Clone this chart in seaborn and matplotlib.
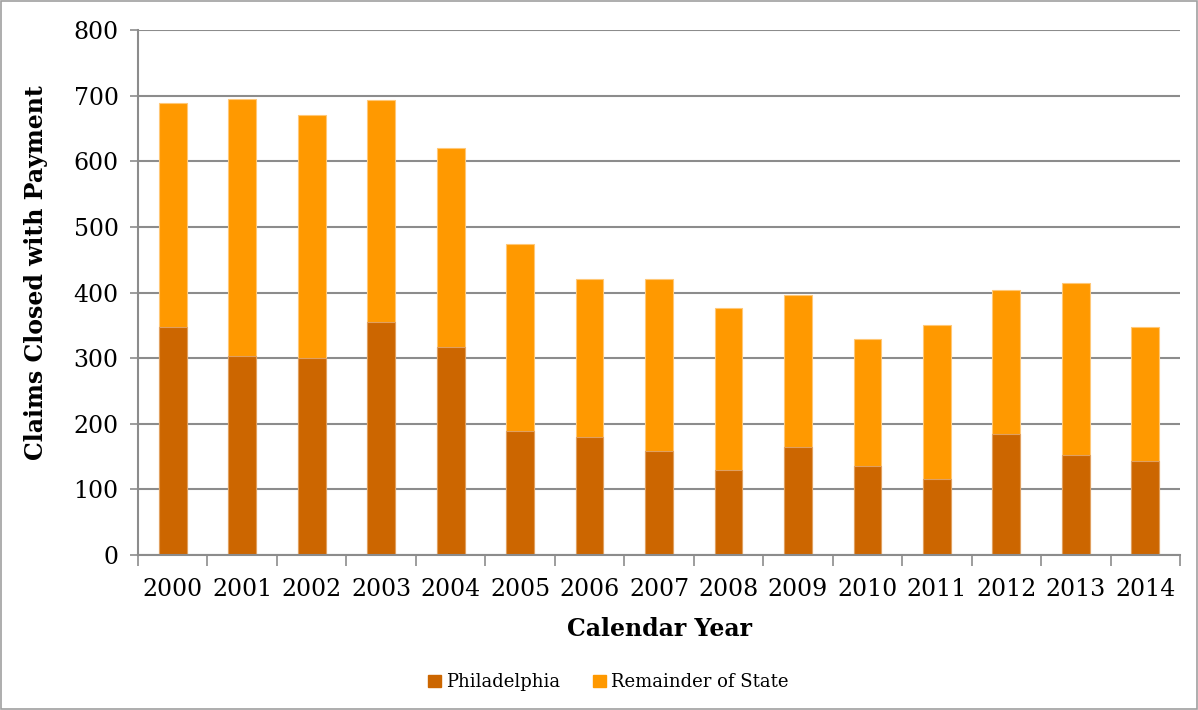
import matplotlib
matplotlib.use("Agg")
import matplotlib.pyplot as plt
from matplotlib.patches import Patch, Rectangle
import pandas as pd
import seaborn as sns

# values
years = [str(y) for y in range(2000, 2015)]
philadelphia = [348, 303, 300, 355, 317, 189, 180, 158, 130, 165, 136, 116, 184, 152, 143]
total_claims = [689, 695, 671, 694, 620, 474, 421, 421, 376, 396, 329, 350, 404, 415, 347]
remainder = [t - p for t, p in zip(total_claims, philadelphia)]

PHILLY_COLOR = "#CC6600"
REST_COLOR = "#FF9900"
GRID_COLOR = "#8C8C8C"

df = pd.DataFrame({"year": years, "philadelphia": philadelphia,
                   "remainder": remainder})
df["total"] = df["philadelphia"] + df["remainder"]

sns.set_style("white")
plt.rcParams["font.family"] = ["DejaVu Serif"]
plt.rcParams["text.color"] = "black"
plt.rcParams["axes.labelcolor"] = "black"
plt.rcParams["xtick.labelcolor"] = "black"
plt.rcParams["ytick.labelcolor"] = "black"

fig = plt.figure(figsize=(11.98, 7.10), dpi=100)
ax = fig.add_axes([0.1152, 0.2183, 0.8698, 0.7394])

# stacked bars: total first, Philadelphia on top of it
sns.barplot(data=df, x="year", y="total", color=REST_COLOR, width=0.4,
            saturation=1, ax=ax, edgecolor="#FFC877", linewidth=0.8)
sns.barplot(data=df, x="year", y="philadelphia", color=PHILLY_COLOR, width=0.4,
            saturation=1, ax=ax, edgecolor="#E0A060", linewidth=0.8)

ax.set_ylim(0, 800)
ax.set_xlim(-0.5, len(years) - 0.5)
ax.set_yticks(range(0, 801, 100))
ax.yaxis.grid(True, color=GRID_COLOR, linewidth=1.5)
ax.set_axisbelow(True)

for side in ["top", "right"]:
    ax.spines[side].set_visible(False)
for side in ["left", "bottom"]:
    ax.spines[side].set_color(GRID_COLOR)
    ax.spines[side].set_linewidth(1.5)

ax.tick_params(axis="y", which="major", left=True, length=6, width=1.2,
               color=GRID_COLOR, labelsize=17, pad=8, labelcolor="black")
ax.tick_params(axis="x", which="major", bottom=False, labelsize=17, pad=13,
               labelcolor="black")
ax.set_xticks([i - 0.5 for i in range(len(years) + 1)], minor=True)
ax.tick_params(axis="x", which="minor", bottom=True, length=8, width=1.2,
               color=GRID_COLOR)

ax.set_xlabel("Calendar Year", fontsize=17, fontweight="bold", color="black")
ax.set_ylabel("Claims Closed with Payment", fontsize=17, fontweight="bold",
              color="black")
ax.yaxis.set_label_coords(-0.086, 0.537)
ax.xaxis.set_label_coords(0.5, -0.118)

handles = [Patch(color=PHILLY_COLOR, label="Philadelphia"),
           Patch(color=REST_COLOR, label="Remainder of State")]
fig.legend(handles=handles, loc="center", bbox_to_anchor=(0.508, 0.039),
           ncol=2, frameon=False, fontsize=13, handlelength=0.7,
           handleheight=0.7, handletextpad=0.3, columnspacing=1.8,
           labelcolor="black")

fig.patches.append(Rectangle((0.001, 0.001), 0.998, 0.998,
                             transform=fig.transFigure, fill=False,
                             edgecolor="#A0A0A0", linewidth=1.2))

fig.savefig("out.png", dpi=100)
